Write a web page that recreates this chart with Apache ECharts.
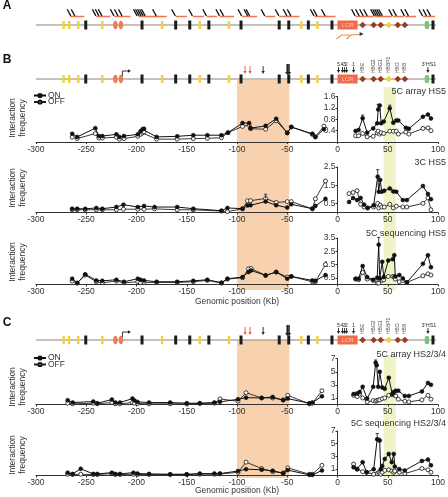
<!DOCTYPE html>
<html><head><meta charset="utf-8">
<script src="https://cdn.jsdelivr.net/npm/echarts@6/dist/echarts.min.js"></script>
<style>html,body{margin:0;padding:0;background:#fff}#c{width:448px;height:497px}</style>
</head><body><div id="c"></div>
<script>
// ---------------- DATA ----------------
const xTicks = { min: -300, max: 100, step: 50 };

// Panel B – 5C array HS5
const b1X   = [-264,-259,-241,-237.5,-234,-220,-217,-212.5,-198.7,-196,-194,-192.5,-180,-159.5,-143.5,-129.5,-115.5,-109,-94.5,-88,-86.5,-71.5,-61,-50,-46,-25,-22,-13.5,
               18,21,25,29.5,35.5,39.5,40.5,42,43.5,46,52,55.5,58.5,60.5,68,71,85,90,93];
const b1On  = [0.29,0.18,0.49,0.21,0.21,0.27,0.18,0.21,0.27,0.38,0.45,0.47,0.18,0.2,0.24,0.24,0.24,0.33,0.67,0.67,0.49,0.57,0.82,0.32,0.53,0.29,0.18,0.45,
               0.39,0.42,0.84,0.33,0.48,0.66,1.15,1.29,0.66,0.72,1.19,0.68,0.76,0.76,0.5,0.47,0.89,0.97,0.83];
const b1Off = [0.17,0.12,0.3,0.14,0.14,0.17,0.1,0.12,0.2,0.27,0.32,0.36,0.1,0.1,0.12,0.13,0.15,0.33,0.55,0.6,0.47,0.45,0.75,0.32,0.53,0.27,0.18,0.56,
               0.22,0.22,0.3,0.18,0.2,0.32,0.38,0.28,0.33,0.3,0.38,0.38,0.38,0.28,0.35,0.28,0.48,0.5,0.4];
const b1Err = [[25,0.84,0.95],[40.5,1.15,1.33],[52,1.19,1.3]];

// Panel B – 3C HS5
const b2X   = [-264,-259,-251,-240,-234,-220,-213,-198.7,-192.5,-182,-159.5,-143.5,-115.5,-109.5,-94.5,-89.5,-86.5,-71.5,-61,-50,-46,-25,-22,-12,
               11.5,15.5,19.5,23,26.5,30,36,40,41,42.5,44,46.5,52,55.5,58.5,65,69,85,90,93];
const b2On  = [0.21,0.21,0.2,0.25,0.21,0.3,0.43,0.3,0.36,0.3,0.3,0.21,0.1,0.25,0.21,0.39,0.4,0.6,0.4,0.27,0.45,0.21,0.36,0.75,
               0.58,0.8,0.68,0.8,0.43,0.25,0.4,1.97,1.14,1.79,1.14,1.2,1.32,1.16,1.14,0.68,0.68,1.45,1.02,0.73];
const b2Off = [0.15,0.15,0.15,0.15,0.15,0.15,0.18,0.18,0.18,0.2,0.15,0.15,0.08,0.05,0.2,0.64,0.65,0.77,0.55,0.6,0.6,0.2,0.75,1.73,
               1.04,1.1,1.2,0.45,0.3,0.25,0.3,0.5,0.25,0.4,0.3,0.3,0.45,0.25,0.35,0.3,0.3,0.5,0.8,0.15];
const b2Err = [[-71.5,0.77,1.0],[40,1.97,2.35]];

// Panel B – 5C sequencing HS5
const b3X   = [-264,-259,-251,-240,-234,-220,-212.5,-198.7,-196,-192.5,-180,-159.5,-143.5,-129.5,-115.5,-109.5,-94.5,-88.5,-86,-71.5,-61,-50,-46,-25,-22,-12,
               18,21,25,29.5,35.5,39.5,41,42,44.5,46,50.5,55,56.5,57.5,61.5,65,69,85,90,93];
const b3On  = [0.43,0.1,0.76,0.3,0.27,0.35,0.2,0.43,0.35,0.3,0.2,0.2,0.27,0.35,0.13,0.43,0.55,0.93,1.05,0.68,0.93,0.43,0.6,0.3,0.27,0.7,
               0.43,0.43,1.38,0.55,0.35,0.5,3.0,0.45,1.7,0.55,1.8,1.9,2.2,0.6,0.7,0.45,0.15,1.55,2.2,1.3];
const b3Off = [0.25,0.1,0.7,0.2,0.12,0.25,0.12,0.2,0.12,0.15,0.15,0.15,0.2,0.3,0.1,0.4,0.5,1.18,1.2,0.68,0.93,0.55,0.6,0.2,0.2,1.5,
               0.4,0.35,0.9,0.4,0.3,0.1,0.1,0.35,0.3,0.35,0.6,0.6,0.55,0.4,0.2,0.3,0.15,0.65,0.8,0.7];
const b3Err = [[41,3.0,3.55]];

// Panel C – 5C array HS2/3/4
const c1X   = [-268.5,-263.5,-243,-239,-224.5,-221,-216.5,-204,-202,-199,-187.5,-166.5,-150,-137,-122.5,-117,-99,-91,-75.5,-64.5,-54,-49.5,-28,-25,-15.5,
               16,19.5,22,25,29.5,35.5,38,39,40.5,42,44.5,47,51,54.5,56,58,60.5,67,71,84,90,93];
const c1On  = [0.65,0.3,0.45,0.2,0.75,0.3,0.3,0.9,0.6,0.4,0.3,0.3,0.2,0.2,0.3,0.4,0.8,1.05,1.0,1.15,0.65,0.9,0.2,0.3,1.25,
               1.6,1.7,1.9,2.7,0.9,2.7,6.4,6.0,2.7,5.0,2.6,2.4,4.1,1.6,1.9,2.1,2.1,1.3,1.3,2.0,3.3,3.0];
const c1Off = [0.2,0.1,0.2,0.1,0.3,0.1,0.1,0.3,0.2,0.15,0.1,0.1,0.1,0.15,0.2,0.85,0.5,1.8,1.0,1.0,0.7,1.4,0.1,0.2,2.1,
               1.4,1.2,1.6,1.0,0.4,0.6,0.5,0.6,0.7,0.7,0.9,1.0,1.4,1.5,1.5,1.3,0.8,0.5,0.4,0.7,1.4,0.8];
const c1Err = [[38,6.4,6.8]];

// Panel C – 5C sequencing HS2/3/4
const c2X   = [-268.5,-263.5,-255.5,-243,-239,-224.5,-221,-216.5,-203,-199,-187.5,-166.5,-150,-137,-122.5,-117,-99,-91,-75.5,-64.5,-54,-49.5,-28,-25,-15.5,
               16,19.5,25,29,36,39.5,41,42,43,44.5,47,51,54,56,57,61.5,67,84,90,93];
const c2On  = [0.45,0.25,1.05,0.25,0.25,0.45,0.25,0.25,0.45,0.3,0.25,0.2,0.2,0.3,0.3,0.3,0.7,1.0,0.9,0.75,0.35,0.85,0.1,0.1,0.8,
               1.3,1.0,2.1,0.5,1.0,5.7,5.6,5.5,1.0,1.5,2.6,3.4,2.1,3.4,1.4,1.0,0.8,2.3,2.5,1.6];
const c2Off = [0.2,0.15,0.2,0.15,0.15,0.3,0.15,0.15,0.2,0.15,0.15,0.15,0.15,0.2,0.2,0.25,0.5,2.1,1.1,0.6,0.4,1.2,0.2,0.2,1.6,
               1.8,1.0,0.6,0.5,0.2,0.3,0.5,0.4,0.2,0.5,0.8,0.9,0.7,0.5,0.7,0.5,0.3,1.1,0.9,0.5];
const c2Err = [[39.5,5.7,6.6]];

// y tick labels per plot
const b1Ticks = [0.4,0.8,1.2,1.6];
const b2Ticks = [0.5,1.5,2.5];
const b3Ticks = [0.5,1.5,2.5,3.5];
const c1Ticks = [1,3,5,7];
const c2Ticks = [1,3,5,7];
const plotTitles = ['5C array HS5','3C HS5','5C sequencing HS5','5C array HS2/3/4','5C sequencing HS2/3/4'];

// Locus map (kb)
const geneKb   = [-272.5,-267,-258,-250.5,-234,-221,-215.5,-194.5,-174.5,-161,-147,-137,-128,-108,-96,-58,-48.5,-36,-29,-20,-5.5,25,36,43,51,60,67,89,95];
const geneType = ['y','y','y','b','y','o','o','b','y','b','b','y','b','y','b','b','b','y','b','y','b','d','d','d','yd','d','d','g','b'];
const lcrKb = [0, 20];
const probeKb = [-267,-263,-242,-239,-236,-224,-220,-216,-201,-199,-197,-195,-193,-182,-163,-146,-132,-119,-115,-97,-91,-89,-74,-60,-52,-48,-25,-22,-14,
                 16,20,24,28,35,37,39,41,43,53,57,65,69,83,87,91];
const probeLines = [[-266,-252],[-240,-226],[-222,-206],[-198,-178],[-181,-170],[-161,-150],[-144,-133],[-130,-120],[-117,-103],[-95,-80],[-72,-62],
                    [-58,-47],[-50,-38],[-23,-10],[-12,-2],[18,36],[37,54],[55,66],[67,78],[85,97]];
const primerPaths = [[[-1,-14],[4,-10],[12,-10]],[[9,-14],[13,-10],[22,-9.5]]];
const arrowKb    = [-92,-87,-74,-50,-48.3,1,5,7,9,16,90];
const arrowColor = ['#e4573b','#e4573b','#222','#222','#222','#222','#222','#222','#222','#222','#222'];
const hsNumLabels = [['5',1],['4',4.6],['3',6.8],['2',8.8],['1',16]];
const geneNames = [['HBE',25],['HBG2',36],['HBG1',43],['HBBP1',51],['HBD',60],['HBB',67]];
const tssKb = -214;

// shaded bands: [startKb, endKb]
const bands = [[-100,-48],[46,58]];
const bandColors = ['#f8d2ae','#eff3c6'];

// ---------------- CHART ----------------
const FONT = '"Liberation Sans", Arial, sans-serif';
const chart = echarts.init(document.getElementById('c'));
const GL = 36, GR = 10, GW = 448 - GL - GR;
const zeroOffset = -GW * (0 - xTicks.min) / (xTicks.max - xTicks.min);

const gridDefs = [
  {top:5,height:40},{top:59,height:40},{top:320,height:40},      // maps A,B,C
  {top:80,height:210},{top:340,height:138},                      // shading B,C
  {top:96.7,height:45.3},{top:167,height:45.5},{top:238,height:46.4},{top:358.7,height:45.8},{top:431,height:44.5}
];
const grid = gridDefs.map(g => Object.assign({left:GL,right:GR,outerBoundsMode:'none',containLabel:false}, g));

const xAxis = [], yAxis = [];
for (let i = 0; i < 5; i++) {
  xAxis.push({type:'value',gridIndex:i,min:xTicks.min,max:xTicks.max,show:false});
}
yAxis.push({type:'value',gridIndex:0,min:-20,max:20,show:false});
yAxis.push({type:'value',gridIndex:1,min:-20,max:20,show:false});
yAxis.push({type:'value',gridIndex:2,min:-20,max:20,show:false});
yAxis.push({type:'value',gridIndex:3,min:0,max:210,show:false});
yAxis.push({type:'value',gridIndex:4,min:0,max:138,show:false});

const plots = [
  {x:b1X,on:b1On,off:b1Off,err:b1Err,ticks:b1Ticks},
  {x:b2X,on:b2On,off:b2Off,err:b2Err,ticks:b2Ticks},
  {x:b3X,on:b3On,off:b3Off,err:b3Err,ticks:b3Ticks},
  {x:c1X,on:c1On,off:c1Off,err:c1Err,ticks:c1Ticks},
  {x:c2X,on:c2On,off:c2Off,err:c2Err,ticks:c2Ticks}
];
const axColor = '#333';
plots.forEach((p,k) => {
  const gi = 5 + k;
  xAxis.push({type:'value',gridIndex:gi,min:xTicks.min,max:xTicks.max,interval:xTicks.step,z:5,
    axisLine:{onZero:true,lineStyle:{color:axColor,width:1}},
    axisTick:{show:true,length:2,lineStyle:{color:axColor}},
    axisLabel:{fontSize:8.5,color:'#333',margin:3,fontFamily:FONT},
    splitLine:{show:false}});
  yAxis.push({type:'value',gridIndex:gi,min:0,max:p.ticks[p.ticks.length-1],z:5,position:'left',offset:zeroOffset,
    axisLine:{show:true,onZero:false,lineStyle:{color:axColor,width:1}},
    axisTick:{show:true,length:2,customValues:p.ticks,lineStyle:{color:axColor}},
    axisLabel:{fontSize:8.5,color:'#333',margin:2,customValues:p.ticks,fontFamily:FONT},
    splitLine:{show:false}});
});

function pairs(xs, ys) {
  const out = [];
  for (let i = 0; i < xs.length; i++) {
    if (i > 0 && xs[i-1] < 0 && xs[i] > 0) out.push(['-','-']);
    out.push([xs[i], ys[i]]);
  }
  return out;
}

const series = [];

// shading bands
[3,4].forEach((gi, idx) => {
  const H = idx === 0 ? 210 : 138;
  const yellowTop = idx === 0 ? 203 : 123;
  series.push({type:'custom',xAxisIndex:gi,yAxisIndex:gi,silent:true,clip:false,z:-1,
    data:bands.map(b => [b[0],0]),
    renderItem:(params, api) => {
      const i = params.dataIndex;
      const top = i === 0 ? H : yellowTop;
      const p0 = api.coord([bands[i][0],0]);
      const p1 = api.coord([bands[i][1],top]);
      return {type:'rect',shape:{x:p0[0],y:p1[1],width:p1[0]-p0[0],height:p0[1]-p1[1]},style:{fill:bandColors[i]}};
    }});
});

// map series builder
function mapSeries(gi, withGlyphs, withProbes) {
  series.push({type:'line',xAxisIndex:gi,yAxisIndex:gi,silent:true,symbol:'none',
    data:[[-300,0],[98,0]],lineStyle:{color:'#8d8672',width:1.2},z:2});
  // genes
  series.push({type:'custom',xAxisIndex:gi,yAxisIndex:gi,silent:true,clip:false,z:3,
    data:geneKb.map(k => [k,0]),
    renderItem:(params, api) => {
      const i = params.dataIndex, t = geneType[i];
      const p = api.coord([geneKb[i],0]); const x = p[0], y = p[1];
      if (t === 'b') return {type:'rect',shape:{x:x-1.5,y:y-4.5,width:3,height:9},style:{fill:'#1c1c1c'}};
      if (t === 'y') return {type:'rect',shape:{x:x-1.2,y:y-4,width:2.4,height:8},style:{fill:'#f3cf3a'}};
      if (t === 'o') return {type:'ellipse',shape:{cx:x,cy:y,rx:2.3,ry:4.3},style:{fill:'#ee7a56'}};
      if (t === 'g') return {type:'rect',shape:{x:x-2.2,y:y-4,width:4.4,height:8,r:1.5},style:{fill:'#7cc47a'}};
      const c = t === 'yd' ? '#f1d13b' : '#9c3b22';
      return {type:'polygon',shape:{points:[[x,y-3.3],[x+3.3,y],[x,y+3.3],[x-3.3,y]]},style:{fill:c}};
    }});
  // LCR box
  series.push({type:'custom',xAxisIndex:gi,yAxisIndex:gi,silent:true,clip:false,z:3,
    data:[[lcrKb[0],0]],
    renderItem:(params, api) => {
      const a = api.coord([lcrKb[0],0]), b = api.coord([lcrKb[1],0]);
      return {type:'group',children:[
        {type:'rect',shape:{x:a[0],y:a[1]-4.5,width:b[0]-a[0],height:9},style:{fill:'#f26a4b'}},
        {type:'text',x:(a[0]+b[0])/2,y:a[1],style:{text:'LCR',fill:'#fbc9b6',fontSize:6,fontFamily:FONT,align:'center',verticalAlign:'middle',textAlign:'center',textVerticalAlign:'middle'}}
      ]};
    }});
  if (withProbes) {
    series.push({type:'custom',xAxisIndex:gi,yAxisIndex:gi,silent:true,clip:false,z:3,
      data:probeLines.map(s => [s[0],8.5]),
      renderItem:(params, api) => {
        const s = probeLines[params.dataIndex];
        const a = api.coord([s[0],8.5]), b = api.coord([s[1],8.5]);
        return {type:'line',shape:{x1:a[0],y1:a[1],x2:b[0],y2:b[1]},style:{stroke:'#f0744e',lineWidth:1.5}};
      }});
    series.push({type:'custom',xAxisIndex:gi,yAxisIndex:gi,silent:true,clip:false,z:4,
      data:probeKb.map(k => [k,12.5]),
      renderItem:(params, api) => {
        const p = api.coord([probeKb[params.dataIndex],12.5]);
        return {type:'line',shape:{x1:p[0]-2,y1:p[1]-3.2,x2:p[0]+1.6,y2:p[1]+3.4},style:{stroke:'#111',lineWidth:1.3}};
      }});
    series.push({type:'custom',xAxisIndex:gi,yAxisIndex:gi,silent:true,clip:false,z:3,
      data:primerPaths.map(pp => pp[0]),
      renderItem:(params, api) => {
        const pts = primerPaths[params.dataIndex].map(q => api.coord(q));
        const last = pts[pts.length-1];
        const ch = [{type:'polyline',shape:{points:pts},style:{stroke:'#f08a4a',lineWidth:1.2,fill:null}}];
        if (params.dataIndex === primerPaths.length-1) {
          ch.push({type:'polygon',shape:{points:[[last[0]+4,last[1]-0.5],[last[0],last[1]-2.5],[last[0],last[1]+1.5]]},style:{fill:'#333'}});
        }
        return {type:'group',children:ch};
      }});
  }
  if (withGlyphs) {
    series.push({type:'custom',xAxisIndex:gi,yAxisIndex:gi,silent:true,clip:false,z:4,
      data:arrowKb.map(k => [k,12]),
      renderItem:(params, api) => {
        const i = params.dataIndex;
        const big = (i === 3 || i === 4);
        const top = api.coord([arrowKb[i], big ? 15 : (i < 3 ? 13 : 12)]);
        const bot = api.coord([arrowKb[i], big ? 4 : (i < 3 ? 5 : 6)]);
        const w = big ? 2.2 : 1.6;
        return {type:'group',children:[
          {type:'line',shape:{x1:top[0],y1:top[1],x2:bot[0],y2:bot[1]-2},style:{stroke:arrowColor[i],lineWidth:big?1.6:0.9}},
          {type:'polygon',shape:{points:[[bot[0]-w,bot[1]-3],[bot[0]+w,bot[1]-3],[bot[0],bot[1]]]},style:{fill:arrowColor[i]}}
        ]};
      }});
    series.push({type:'custom',xAxisIndex:gi,yAxisIndex:gi,silent:true,clip:false,z:4,
      data:[[tssKb,0]],
      renderItem:(params, api) => {
        const a = api.coord([tssKb,3]), b = api.coord([tssKb,8]), c = api.coord([tssKb+6,8]);
        return {type:'group',children:[
          {type:'polyline',shape:{points:[a,b,c]},style:{stroke:'#222',lineWidth:0.9,fill:null}},
          {type:'polygon',shape:{points:[[c[0]+2.5,c[1]],[c[0]-0.5,c[1]-1.8],[c[0]-0.5,c[1]+1.8]]},style:{fill:'#222'}}
        ]};
      }});
    series.push({type:'custom',xAxisIndex:gi,yAxisIndex:gi,silent:true,clip:false,z:4,
      data:hsNumLabels.map(l => [l[1],14.5]),
      renderItem:(params, api) => {
        const l = hsNumLabels[params.dataIndex];
        const p = api.coord([l[1],14.5]);
        return {type:'text',x:p[0],y:p[1],style:{text:l[0],fill:'#333',fontSize:5.5,fontFamily:FONT,align:'center',verticalAlign:'middle',textAlign:'center',textVerticalAlign:'middle'}};
      }});
    series.push({type:'custom',xAxisIndex:gi,yAxisIndex:gi,silent:true,clip:false,z:4,
      data:geneNames.map(l => [l[1],6]),
      renderItem:(params, api) => {
        const l = geneNames[params.dataIndex];
        const p = api.coord([l[1],6]);
        return {type:'text',x:p[0],y:p[1],rotation:Math.PI/2,style:{text:l[0],fill:'#444',fontSize:5,fontFamily:FONT,align:'left',verticalAlign:'middle',textAlign:'left',textVerticalAlign:'middle'}};
      }});
    series.push({type:'custom',xAxisIndex:gi,yAxisIndex:gi,silent:true,clip:false,z:4,
      data:[[91,15]],
      renderItem:(params, api) => {
        const p = api.coord([91,15]);
        return {type:'text',x:p[0],y:p[1],style:{text:"3'HS1",fill:'#333',fontSize:5.5,fontFamily:FONT,align:'center',verticalAlign:'middle',textAlign:'center',textVerticalAlign:'middle'}};
      }});
  }
}
mapSeries(0,false,true);
mapSeries(1,true,false);
mapSeries(2,true,false);

// data plots
plots.forEach((p,k) => {
  const gi = 5 + k;
  series.push({type:'line',name:'OFF',xAxisIndex:gi,yAxisIndex:gi,data:pairs(p.x,p.off),connectNulls:false,
    symbol:'circle',symbolSize:4,z:6,
    itemStyle:{color:'#fff',borderColor:'#111',borderWidth:0.8},
    lineStyle:{color:'#222',width:0.9}});
  series.push({type:'line',name:'ON',xAxisIndex:gi,yAxisIndex:gi,data:pairs(p.x,p.on),connectNulls:false,
    symbol:'circle',symbolSize:4,z:7,
    itemStyle:{color:'#111',borderColor:'#111',borderWidth:0.5},
    lineStyle:{color:'#111',width:1}});
  series.push({type:'custom',xAxisIndex:gi,yAxisIndex:gi,silent:true,clip:false,z:7,
    data:p.err.map(e => [e[0],e[2]]),
    renderItem:(params, api) => {
      const e = p.err[params.dataIndex];
      const a = api.coord([e[0],e[1]]), b = api.coord([e[0],e[2]]);
      return {type:'group',children:[
        {type:'line',shape:{x1:a[0],y1:a[1],x2:b[0],y2:b[1]},style:{stroke:'#111',lineWidth:0.8}},
        {type:'line',shape:{x1:b[0]-1.6,y1:b[1],x2:b[0]+1.6,y2:b[1]},style:{stroke:'#111',lineWidth:0.8}}
      ]};
    }});
});

// texts
const txt = (x,y,text,extra) => Object.assign({type:'text',x:x,y:y,silent:true,
  style:Object.assign({text:text,fill:'#333',fontSize:8.5,fontFamily:FONT,align:'center',verticalAlign:'middle',textAlign:'center',textVerticalAlign:'middle'}, extra||{})});
const elements = [
  txt(7,6,'A',{fontSize:12,fontWeight:'bold',fill:'#111'}),
  txt(7,60,'B',{fontSize:12,fontWeight:'bold',fill:'#111'}),
  txt(7,323,'C',{fontSize:12,fontWeight:'bold',fill:'#111'}),
  txt(237,302,'Genomic position (Kb)',{fontSize:8.5}),
  txt(237,491,'Genomic position (Kb)',{fontSize:8.5})
];
const titleY = [92,162.5,233.5,354.5,423.5];
plotTitles.forEach((t,i) => elements.push(txt(446,titleY[i],t,{fontSize:9,align:'right',textAlign:'right'})));
const nameY = [118,188,262,387,455];
nameY.forEach(y => {
  elements.push(Object.assign(txt(13,y,'Interaction',{fontSize:8.5}),{rotation:Math.PI/2}));
  elements.push(Object.assign(txt(23,y,'frequency',{fontSize:8.5}),{rotation:Math.PI/2}));
});

const legendBase = {data:['ON','OFF'],orient:'vertical',left:33,itemWidth:12,itemHeight:4,itemGap:-2.5,padding:0,
  selectedMode:false,textStyle:{fontSize:8.5,color:'#333',fontFamily:FONT,padding:[0,0,0,-3]}};

chart.setOption({
  animation:false,
  textStyle:{fontFamily:FONT},
  grid:grid, xAxis:xAxis, yAxis:yAxis, series:series,
  legend:[Object.assign({top:91},legendBase),Object.assign({top:353.5},legendBase)],
  graphic:{elements:elements}
});
</script></body></html>
